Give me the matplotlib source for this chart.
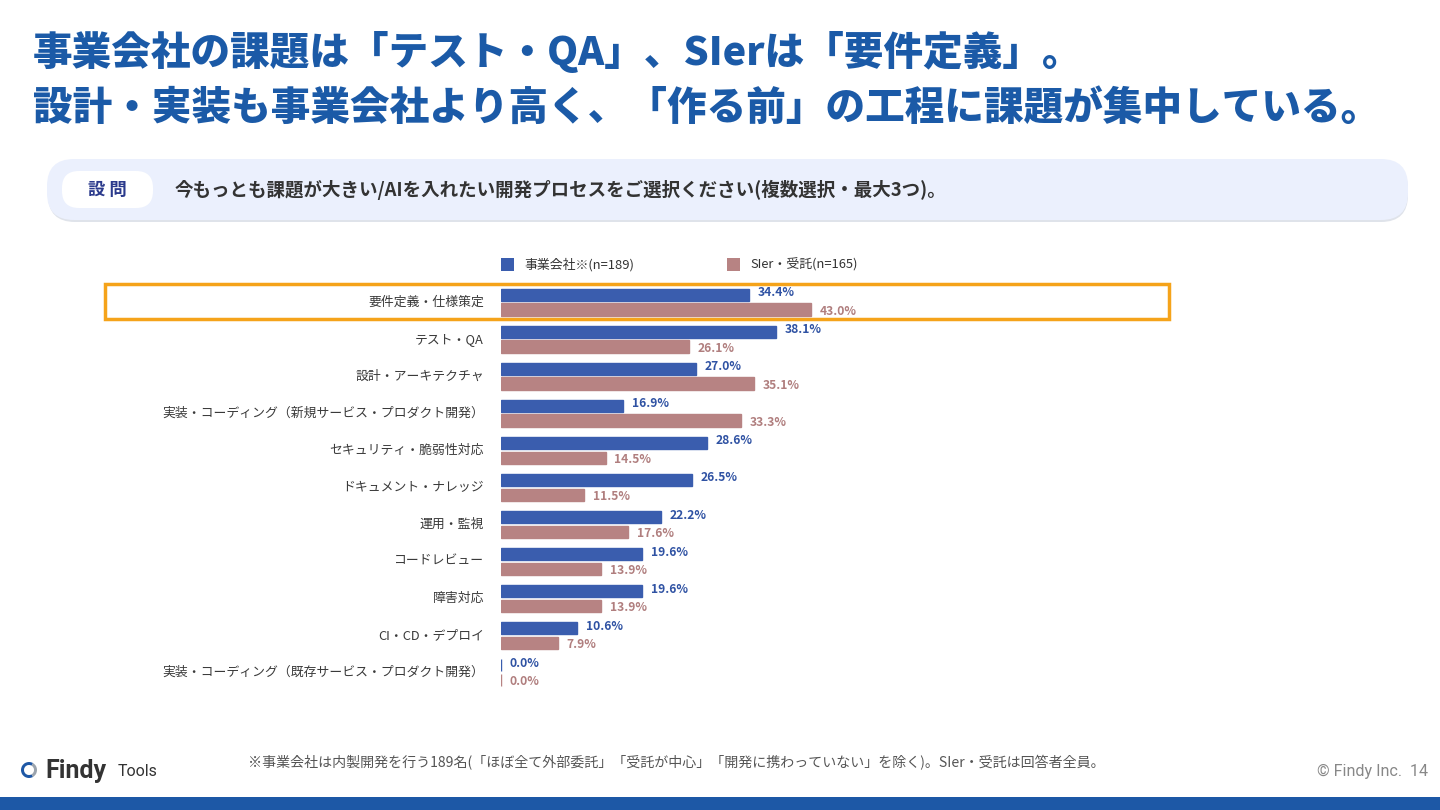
import matplotlib.pyplot as plt
from matplotlib.patches import FancyBboxPatch, Rectangle, Wedge
import numpy as np

plt.rcParams['font.family'] = ['Noto Sans CJK JP', 'DejaVu Sans']

# データ
categories = ["要件定義・仕様策定", "テスト・QA", "設計・アーキテクチャ",
              "実装・コーディング（新規サービス・プロダクト開発）",
              "セキュリティ・脆弱性対応", "ドキュメント・ナレッジ", "運用・監視",
              "コードレビュー", "障害対応", "CI・CD・デプロイ",
              "実装・コーディング（既存サービス・プロダクト開発）"]
jigyo = [34.4, 38.1, 27.0, 16.9, 28.6, 26.5, 22.2, 19.6, 19.6, 10.6, 0.0]
sier = [43.0, 26.1, 35.1, 33.3, 14.5, 11.5, 17.6, 13.9, 13.9, 7.9, 0.0]
legend_labels = ["事業会社※(n=189)", "SIer・受託(n=165)"]

W, H = 1440, 810
BLUE = "#3a5dae"
PINK = "#b78383"
TITLE_C = "#1b5aa7"

fig = plt.figure(figsize=(14.4, 8.1), dpi=100)

# ピクセル座標で描く下敷き
ov = fig.add_axes([0, 0, 1, 1], zorder=0)
ov.set_xlim(0, W)
ov.set_ylim(H, 0)
ov.axis("off")

# タイトル
ov.text(33, 52, "事業会社の課題は「テスト・QA」、SIerは「要件定義」。",
        fontsize=28.5, fontweight="black", color=TITLE_C, va="center")
ov.text(33, 108, "設計・実装も事業会社より高く、「作る前」の工程に課題が集中している。",
        fontsize=28.5, fontweight="black", color=TITLE_C, va="center")

# 設問ボックス
ov.add_patch(FancyBboxPatch((48, 162), 1360, 60, boxstyle="round,pad=0,rounding_size=27",
                            facecolor="#dfe3ea", edgecolor="none"))
ov.add_patch(FancyBboxPatch((47, 159), 1361, 61, boxstyle="round,pad=0,rounding_size=27",
                            facecolor="#ebf0fd", edgecolor="none"))
ov.add_patch(FancyBboxPatch((62, 171), 91, 37, boxstyle="round,pad=0,rounding_size=17",
                            facecolor="white", edgecolor="none"))
ov.text(107, 190, "設 問", fontsize=12.5, fontweight="bold",
        color="#2b3a8c", ha="center", va="center")
ov.text(175, 190, "今もっとも課題が大きい/AIを入れたい開発プロセスをご選択ください(複数選択・最大3つ)。",
        fontsize=13.3, fontweight="bold", color="#333333", va="center")

# 棒グラフ
px_per_pct = 7.21
ax_left, ax_right = 501, 1169
top_py, bot_py = 302 - 18.5, 672.5 + 18.5
ax = fig.add_axes([ax_left / W, 1 - bot_py / H, (ax_right - ax_left) / W, (bot_py - top_py) / H],
                  zorder=1)
ax.patch.set_alpha(0)
ax.set_xlim(0, (ax_right - ax_left) / px_per_pct)
ax.set_ylim(len(categories) - 0.5, -0.5)
ax.axis("off")

y = np.arange(len(categories))
off = 0.2
bh = 0.33
ax.barh(y - off, jigyo, height=bh, color=BLUE, edgecolor=BLUE, linewidth=1)
ax.barh(y + off, sier, height=bh, color=PINK, edgecolor=PINK, linewidth=1)

for i, (a, b) in enumerate(zip(jigyo, sier)):
    ax.text(a + 1.2, i - off - 0.05, f"{a:.1f}%", fontsize=8.7, fontweight="bold",
            color="#2f52a3", va="center")
    ax.text(b + 1.2, i + off + 0.05, f"{b:.1f}%", fontsize=8.7, fontweight="bold",
            color="#b07e7e", va="center")
    ov.text(484, 302 + i * 37.05, categories[i], fontsize=9.25,
            color="#3a3a3a", ha="right", va="center")

# 凡例
for sx, c, lab in [(501, BLUE, legend_labels[0]), (727, PINK, legend_labels[1])]:
    ov.add_patch(Rectangle((sx, 258), 13, 13, facecolor=c, edgecolor="none"))
    ov.text(sx + 23, 265, lab, fontsize=9.3, color="#333333", va="center")

# ハイライト枠
ov.add_patch(Rectangle((105, 284), 1064, 35, facecolor="none",
                       edgecolor="#f5a31a", linewidth=2.5, zorder=3))

# フッター
ov.text(248, 763, "※事業会社は内製開発を行う189名(「ほぼ全て外部委託」「受託が中心」「開発に携わっていない」を除く)。SIer・受託は回答者全員。",
        fontsize=10.1, color="#555555", va="center")
ov.add_patch(Wedge((29, 770), 8, 60, 300, width=3, facecolor="#1f58a6", edgecolor="none"))
ov.add_patch(Wedge((29, 770), 8, -60, 60, width=3, facecolor="#9aa3ad", edgecolor="none"))
ov.text(45, 771, "Findy", fontsize=18, fontweight="bold", color="#333333", va="center",
        family=["Roboto", "DejaVu Sans"])
ov.text(118, 772, "Tools", fontsize=11.5, color="#333333", va="center",
        family=["Roboto", "DejaVu Sans"])
ov.text(1428, 771, "© Findy Inc.  14", fontsize=11.6, color="#888888",
        ha="right", va="center", family=["Roboto", "DejaVu Sans"])
ov.add_patch(Rectangle((0, 797), W, 13, facecolor="#1d58a6", edgecolor="none"))

fig.savefig("out.png", dpi=100, facecolor="white")
